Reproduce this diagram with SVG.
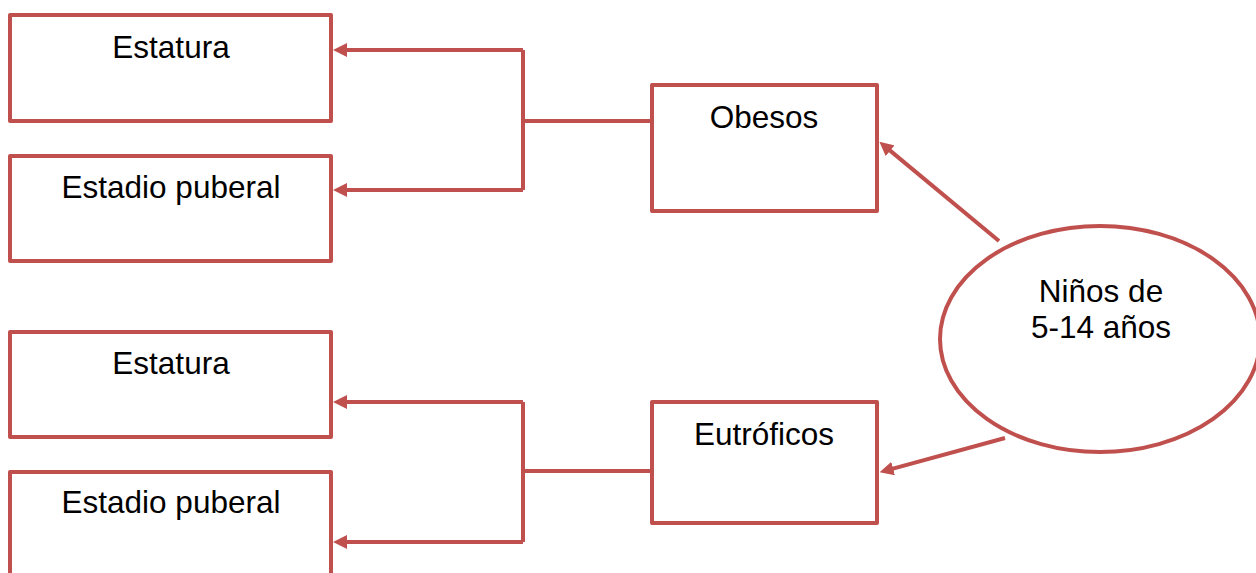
<svg xmlns="http://www.w3.org/2000/svg" width="1256" height="573" viewBox="0 0 1256 573">
<style>
.box{fill:#fff;stroke:#C0504D;stroke-width:4;stroke-linejoin:round}
.lbl{font-family:"Liberation Sans",Arial,sans-serif;font-size:31.5px;fill:#000;text-anchor:middle}
.con{fill:none;stroke:#C0504D;stroke-width:4}
</style>
<defs>
<marker id="ah" markerUnits="userSpaceOnUse" markerWidth="14" markerHeight="14" refX="2" refY="7" orient="auto">
<path d="M0,0 L14,7 L0,14 z" fill="#C0504D"/>
</marker>
</defs>
<rect width="1256" height="573" fill="#fff"/>
<g id="connectors">
<path class="con" d="M652,121 H523"/>
<path class="con" d="M523,50 V190"/>
<path class="con" d="M523,50 H345" marker-end="url(#ah)"/>
<path class="con" d="M523,190 H345" marker-end="url(#ah)"/>
<path class="con" d="M652,471 H523"/>
<path class="con" d="M523,402 V542"/>
<path class="con" d="M523,402 H345" marker-end="url(#ah)"/>
<path class="con" d="M523,542 H345" marker-end="url(#ah)"/>
<path class="con" d="M999,241 L888.6,149.4" marker-end="url(#ah)"/>
<path class="con" d="M1005,438 L891.2,469.1" marker-end="url(#ah)"/>
</g>
<g id="n-estatura1"><rect class="box" x="10" y="15" width="321" height="106"/><text class="lbl" x="171" y="58">Estatura</text></g>
<g id="n-estadio1"><rect class="box" x="10" y="156" width="321" height="105"/><text class="lbl" x="171" y="198">Estadio puberal</text></g>
<g id="n-estatura2"><rect class="box" x="10" y="332" width="321" height="105"/><text class="lbl" x="171" y="374">Estatura</text></g>
<g id="n-estadio2"><rect class="box" x="10" y="472" width="321" height="110"/><text class="lbl" x="171" y="513">Estadio puberal</text></g>
<g id="n-obesos"><rect class="box" x="652" y="85" width="225" height="126"/><text class="lbl" x="764" y="128">Obesos</text></g>
<g id="n-eutroficos"><rect class="box" x="652" y="402" width="225" height="121"/><text class="lbl" x="764" y="445">Eutróficos</text></g>
<g id="n-ninos"><ellipse class="box" cx="1100" cy="339" rx="160" ry="113"/><text class="lbl" x="1101" y="302">Niños de</text><text class="lbl" x="1101" y="338">5-14 años</text></g>
</svg>
